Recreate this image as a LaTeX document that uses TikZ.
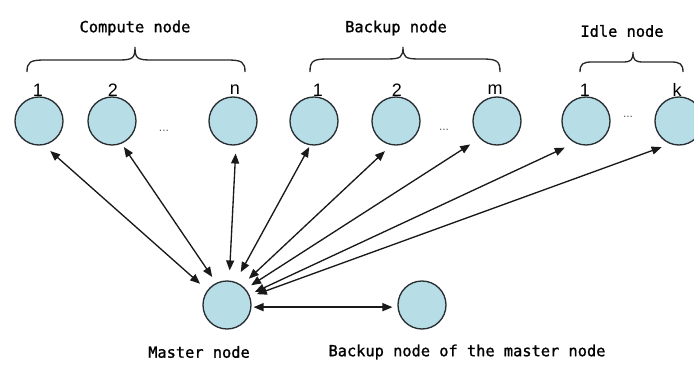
\documentclass[tikz,border=0pt]{standalone}
\usepackage{fontspec}
\setmainfont{Liberation Sans}
\newfontfamily\labelfont[FakeBold=1.2]{DejaVu Sans Mono}
\usetikzlibrary{arrows.meta}

\definecolor{nodefill}{RGB}{183,221,231}
\definecolor{nodeline}{RGB}{40,45,50}
\definecolor{bracecol}{RGB}{40,40,40}

% curly brace: left x, right x, tip x, end y, bar y, tip y, curl width
\newcommand\drawbrace[7]{%
  \draw[bracestroke]
    (#1,#4) .. controls (#1,{#5+2}) and ({#1+3},#5) .. ({#1+#7},#5)
    -- ({#3-#7+2},#5) .. controls ({#3-2},#5) and (#3,{#5-2}) .. (#3,#6)
    .. controls (#3,{#5-2}) and ({#3+2},#5) .. ({#3+#7-2},#5)
    -- ({#2-#7},#5) .. controls ({#2-3},#5) and (#2,{#5+2}) .. (#2,#4);}

\begin{document}
\begin{tikzpicture}[x=0.75pt,y=-0.75pt,
  worker/.style={circle,draw=nodeline,line width=1pt,fill=nodefill,
                 minimum size=36pt,inner sep=0pt},
  idx/.style={font=\fontsize{13.5}{13.5}\selectfont,inner sep=0pt},
  grouptitle/.style={font=\labelfont\fontsize{11.5}{12}\selectfont,text=black,inner sep=0pt},
  gap/.style={font=\fontsize{9}{9}\selectfont,text=black!65,inner sep=0pt},
  bracestroke/.style={draw=bracecol,line width=1pt},
  link/.style={{Triangle[length=7.5pt,width=6pt]}-{Triangle[length=7.5pt,width=6pt]},
               line width=1pt,draw=black!90}]
  \clip (0,0) rectangle (694,367);
  \useasboundingbox (0,0) rectangle (694,367);

  % group titles and braces
  \node[grouptitle] (tcomp) at (135,28) {Compute node};
  \node[grouptitle] (tback) at (396,28) {Backup node};
  \node[grouptitle] (tidle) at (622,31) {Idle node};
  \drawbrace{27}{245}{135}{72}{60}{47}{18}
  \drawbrace{310}{500}{403}{72}{59}{47}{18}
  \drawbrace{580}{683}{633}{72}{62}{52}{12}

  % compute nodes
  \node[worker] (c1) at (39,121) {};
  \node[worker] (c2) at (112,121) {};
  \node[worker] (cn) at (233,121) {};
  % backup nodes
  \node[worker] (b1) at (314,121) {};
  \node[worker] (b2) at (396,121) {};
  \node[worker] (bm) at (497,121) {};
  % idle nodes
  \node[worker] (i1) at (586,121) {};
  \node[worker] (ik) at (679,121) {};

  % indices
  \node[idx] (lc1) at (38,90) {1};
  \node[idx] (lc2) at (113,90) {2};
  \node[idx] (lcn) at (235,90) {n};
  \node[idx] (lb1) at (318,90) {1};
  \node[idx] (lb2) at (397,90) {2};
  \node[idx] (lbm) at (495,90) {m};
  \node[idx] (li1) at (585,90) {1};
  \node[idx] (lik) at (677,90) {k};

  % ellipses between nodes
  \node[gap] (dc) at (164,131) {...};
  \node[gap] (db) at (444,130) {...};
  \node[gap] (di) at (628,117) {...};

  % master and its backup
  \node[worker] (master) at (227,305) {};
  \node[worker] (bmaster) at (422,305) {};
  \node[grouptitle] (tmaster) at (199,352) {Master node};
  \node[grouptitle] (tbmaster) at (467,352) {Backup node of the master node};

  % links to the master
  \draw[link,shorten <=6.5pt,shorten >=7.2pt] (c1.-79) -- (master.143.5);
  \draw[link,shorten <=3pt,shorten >=5.3pt] (c2.-67) -- (master.116.6);
  \draw[link,shorten <=6pt,shorten >=7.5pt] (cn.-83) -- (master.85);
  \draw[link,shorten <=1.5pt,shorten >=8.3pt] (b1.-99) -- (master.70);
  \draw[link,shorten <=6.5pt,shorten >=7.2pt] (b2.-101) -- (master.53.5);
  \draw[link,shorten <=8.3pt,shorten >=4.9pt] (bm.-135) -- (master.41);
  \draw[link,shorten <=8.3pt,shorten >=4.5pt] (i1.-117) -- (master.25.7);
  \draw[link,shorten <=6.8pt,shorten >=5.3pt] (ik.-111) -- (master.20.8);
  \draw[link,shorten <=1.5pt,shorten >=3.7pt] (master.-5) -- (bmaster.185);
\end{tikzpicture}
\end{document}
